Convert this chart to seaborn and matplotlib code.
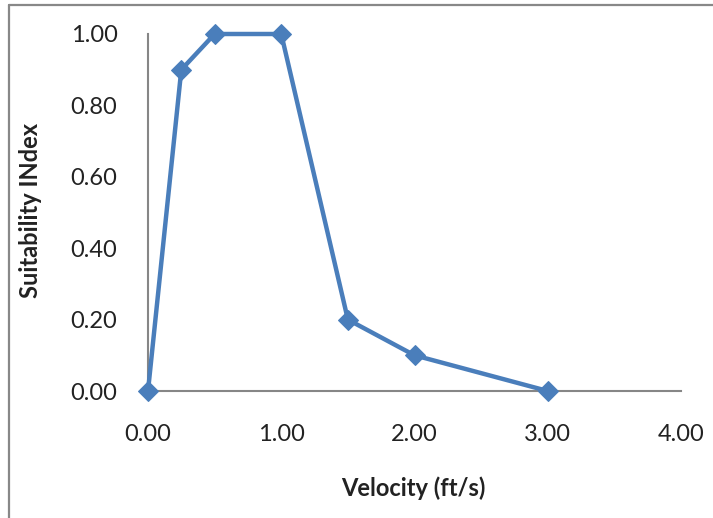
import matplotlib
matplotlib.use("Agg")
import matplotlib.pyplot as plt
from matplotlib.lines import Line2D
import seaborn as sns
import pandas as pd

velocity = [0.0, 0.25, 0.5, 1.0, 1.5, 2.0, 3.0]
suitability = [0.0, 0.9, 1.0, 1.0, 0.2, 0.1, 0.0]
x_ticks = [0, 1, 2, 3, 4]
y_ticks = [0.0, 0.2, 0.4, 0.6, 0.8, 1.0]

sns.set_style("white")
plt.rcParams["font.family"] = ["Lato", "DejaVu Sans"]

df = pd.DataFrame({"Velocity (ft/s)": velocity, "Suitability INdex": suitability})

fig = plt.figure(figsize=(7.13, 5.18), dpi=100)
ax = fig.add_axes([148/713, 1-391/518, (681-148)/713, (391-34)/518])

blue = "#4A7EBB"
sns.lineplot(data=df, x="Velocity (ft/s)", y="Suitability INdex", ax=ax,
             color=blue, linewidth=3.2, marker="D", markersize=10,
             markeredgecolor=blue, sort=False, clip_on=False, zorder=5)

ax.set_xlim(0, 4)
ax.set_ylim(0, 1)
ax.set_xticks(x_ticks)
ax.set_yticks(y_ticks)
ax.set_xticklabels([f"{v:.2f}" for v in x_ticks])
ax.set_yticklabels([f"{v:.2f}" for v in y_ticks])
ax.tick_params(axis="both", length=0, labelsize=17, colors="#222222")
ax.tick_params(axis="x", pad=24)
ax.tick_params(axis="y", pad=22)

for s in ["top", "right"]:
    ax.spines[s].set_visible(False)
for s in ["left", "bottom"]:
    ax.spines[s].set_color("#868686")
    ax.spines[s].set_linewidth(1.5)

ax.set_xlabel("Velocity (ft/s)", fontsize=17, fontweight="bold", color="#222222")
ax.set_ylabel("Suitability INdex", fontsize=17, fontweight="bold", color="#222222")
ax.xaxis.label.set_va("center")
ax.yaxis.label.set_va("center")
ax.xaxis.set_label_coords(0.497, -0.272)
ax.yaxis.set_label_coords(-0.221, 0.507)

# outer chart border (left and top visible)
fig.add_artist(Line2D([9/713, 9/713], [0, 1-5/518], transform=fig.transFigure,
                      color="#888888", linewidth=1.6))
fig.add_artist(Line2D([9/713, 1], [1-5/518, 1-5/518], transform=fig.transFigure,
                      color="#888888", linewidth=1.6))

fig.savefig("out.png", dpi=100)
